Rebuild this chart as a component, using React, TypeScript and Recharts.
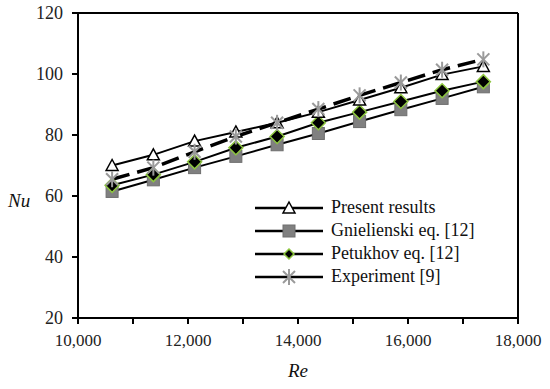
import React from 'react';
import {
  LineChart,
  Line,
  XAxis,
  YAxis,
  Legend,
  ReferenceLine,
  Label,
} from 'recharts';

// Reynolds numbers of the measured / computed points
const re = [10620, 11370, 12120, 12870, 13620, 14370, 15120, 15870, 16620, 17370];

// Nusselt number per series
const present = [70, 73.5, 78, 81, 84, 87.5, 91.5, 95.5, 99.8, 102.5];
const gnielinski = [61.5, 65.3, 69.3, 73, 76.8, 80.5, 84.4, 88.3, 92, 95.8];
const petukhov = [63.5, 67, 71.2, 75.8, 79.5, 84, 87.5, 91, 94.5, 97.5];
const experiment = [65.5, 69.3, 74.5, 79.5, 84, 88.5, 93, 97.2, 101.4, 104.8];

const xTicks = [10000, 11000, 12000, 13000, 14000, 15000, 16000, 17000, 18000];
const yTicks = [20, 40, 60, 80, 100, 120];

const seriesNames = ['Present results', 'Gnielienski eq. [12]', 'Petukhov eq. [12]', 'Experiment [9]'];

const data = re.map((r, i) => ({
  re: r,
  present: present[i],
  gnielinski: gnielinski[i],
  petukhov: petukhov[i],
  experiment: experiment[i],
}));

const FONT = '"Liberation Serif", "DejaVu Serif", serif';

function Triangle({ cx, cy }: any) {
  return <path d={`M${cx},${cy - 6} L${cx + 6},${cy + 5} L${cx - 6},${cy + 5} Z`} fill="#fff" stroke="#000" strokeWidth={1.5} />;
}

function Square({ cx, cy }: any) {
  return <rect x={cx - 6} y={cy - 6} width={12} height={12} fill="#808080" stroke="#6e6e6e" strokeWidth={1} />;
}

function Diamond({ cx, cy, size = 7 }: any) {
  return (
    <path
      d={`M${cx},${cy - size} L${cx + size},${cy} L${cx},${cy + size} L${cx - size},${cy} Z`}
      fill="#000"
      stroke="#8dc63f"
      strokeWidth={1.5}
    />
  );
}

function Star({ cx, cy }: any) {
  return (
    <g stroke="#9a9a9a" strokeWidth={2}>
      <line x1={cx - 6} y1={cy - 6} x2={cx + 6} y2={cy + 6} />
      <line x1={cx - 6} y1={cy + 6} x2={cx + 6} y2={cy - 6} />
      <line x1={cx} y1={cy - 8} x2={cx} y2={cy + 8} />
    </g>
  );
}

const markers = [Triangle, Square, (p: any) => <Diamond {...p} size={5} />, Star];

function LegendBox() {
  return (
    <div style={{ fontFamily: FONT, fontSize: 18, color: '#111', lineHeight: '23px' }}>
      {seriesNames.map((name, i) => {
        const M = markers[i];
        return (
          <div key={name} style={{ display: 'flex', alignItems: 'center', height: 23 }}>
            <svg width={68} height={23}>
              <line x1={0} y1={12} x2={68} y2={12} stroke="#000" strokeWidth={2.5} />
              <M cx={34} cy={12} />
            </svg>
            <span style={{ marginLeft: 8 }}>{name}</span>
          </div>
        );
      })}
    </div>
  );
}

const xTickStyle = { fontFamily: FONT, fontSize: 17, fill: '#222' };
const yTickStyle = { fontFamily: FONT, fontSize: 18, fill: '#222' };

export default function App() {
  return (
    <div style={{ position: 'absolute', left: 0, top: 0, background: '#fff' }}>
      <LineChart width={550} height={389} data={data} margin={{ top: 13, right: 32, bottom: 0, left: 0 }}>
        <XAxis
          dataKey="re"
          type="number"
          domain={[10000, 18000]}
          ticks={xTicks}
          tickFormatter={(v: number) => (v % 2000 === 0 ? v.toLocaleString('en-US') : '')}
          height={71}
          tick={xTickStyle}
          tickSize={6}
          tickMargin={10}
          stroke="#000"
          strokeWidth={2}
        >
          <Label value="Re" position="insideBottom" offset={12} style={{ fontFamily: FONT, fontSize: 19, fontStyle: 'italic', fill: '#111' }} />
        </XAxis>
        <YAxis
          type="number"
          domain={[20, 120]}
          ticks={yTicks}
          width={78}
          tick={yTickStyle}
          tickSize={6}
          tickMargin={9}
          stroke="#000"
          strokeWidth={2}
        >
          <Label value="Nu" position="insideLeft" offset={8} dy={35} style={{ fontFamily: FONT, fontSize: 19, fontStyle: 'italic', fill: '#111' }} />
        </YAxis>
        <ReferenceLine y={120} stroke="#000" strokeWidth={2} />
        <ReferenceLine x={18000} stroke="#000" strokeWidth={2} />
        <Line dataKey="gnielinski" stroke="#000" strokeWidth={2} dot={<Square />} isAnimationActive={false} />
        <Line dataKey="petukhov" stroke="#000" strokeWidth={2} dot={<Diamond />} isAnimationActive={false} />
        <Line dataKey="present" stroke="#000" strokeWidth={2} dot={<Triangle />} isAnimationActive={false} />
        <Line dataKey="experiment" stroke="#000" strokeWidth={3.5} strokeDasharray="18 8" dot={<Star />} isAnimationActive={false} />
        <Legend
          layout="horizontal"
          verticalAlign="middle"
          align="center"
          content={<LegendBox />}
          wrapperStyle={{ position: 'absolute', left: 255, top: 196, width: 'auto', height: 'auto' }}
        />
      </LineChart>
    </div>
  );
}
